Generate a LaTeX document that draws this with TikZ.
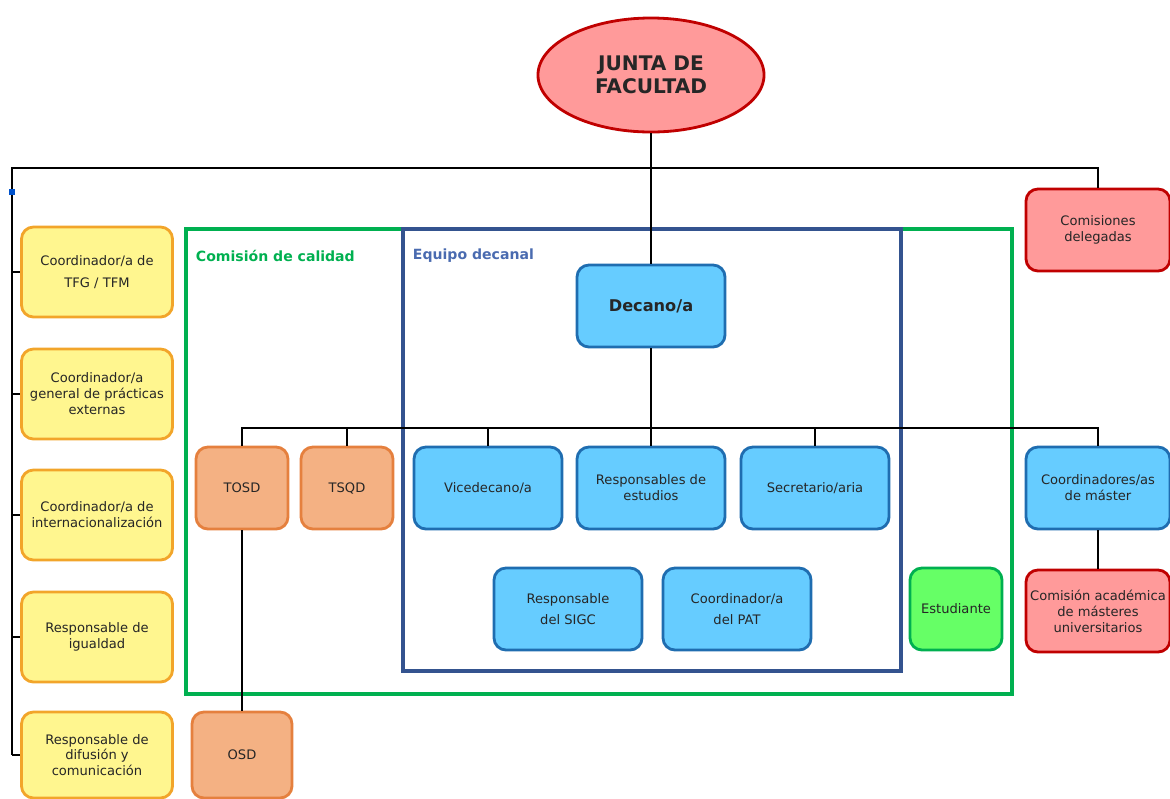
\documentclass[tikz,border=0pt]{standalone}
\usepackage{fontspec}
\setmainfont{DejaVu Sans}
\usetikzlibrary{shapes.geometric}

\definecolor{redfill}{HTML}{FF9A9A}
\definecolor{redline}{HTML}{C00000}
\definecolor{yelfill}{HTML}{FFF68F}
\definecolor{yelline}{HTML}{F2A52A}
\definecolor{bluefill}{HTML}{66CCFF}
\definecolor{blueline}{HTML}{1F6DB0}
\definecolor{orafill}{HTML}{F4B183}
\definecolor{oraline}{HTML}{E5803E}
\definecolor{grnfill}{HTML}{66FF66}
\definecolor{grnline}{HTML}{00B050}
\definecolor{frameblue}{HTML}{34538F}
\definecolor{titleblue}{HTML}{4A6BB0}
\definecolor{boxtext}{HTML}{262626}

\begin{document}
\begin{tikzpicture}[x=0.025cm,y=-0.025cm,
  box/.style={draw, rounded corners=0.3cm, line width=2pt, align=center,
    text=boxtext, inner sep=2pt, font=\fontsize{9.3}{11.3}\selectfont},
  yelbox/.style={box, fill=yelfill, draw=yelline, minimum width=3.775cm, minimum height=2.25cm},
  bluebox/.style={box, fill=bluefill, draw=blueline, minimum width=3.7cm, minimum height=2.05cm},
  redbox/.style={box, fill=redfill, draw=redline, minimum width=3.6cm, minimum height=2.05cm},
  orabox/.style={box, fill=orafill, draw=oraline, minimum width=2.3cm, minimum height=2.05cm},
  conn/.style={line width=1.4pt, black},
  frame/.style={line width=2.2pt},
  frametitle/.style={anchor=west, font=\fontsize{10}{12}\selectfont\bfseries}]
\useasboundingbox (0,0) rectangle (1170,798);

% marcos
\draw[frame, grnline] (186,229) rectangle (1012,694);
\draw[frame, frameblue] (403,229) rectangle (901,671);
\node[frametitle, text=grnline] (tcal) at (191,256) {Comisión de calidad};
\node[frametitle, text=titleblue] (tdec) at (408,256) {Equipo decanal};

\node[ellipse, draw=redline, fill=redfill, line width=2pt, minimum width=5.65cm, minimum height=2.85cm,
  align=center, font=\fontsize{14.3}{16}\selectfont\bfseries, text=boxtext] (junta) at (651,75) {JUNTA DE\\FACULTAD};

\node[redbox] (comis) at (1098,230) {Comisiones\\delegadas};

% columna izquierda
\node[yelbox] (tfg) at (97,272) {Coordinador/a de\\[4pt]TFG / TFM};
\node[yelbox] (prac) at (97,394) {Coordinador/a\\general de prácticas\\externas};
\node[yelbox] (inter) at (97,515) {Coordinador/a de\\internacionalización};
\node[yelbox] (igual) at (97,637) {Responsable de\\igualdad};
\node[yelbox, minimum height=2.15cm] (difu) at (97,755) {Responsable de\\difusión y\\comunicación};

% equipo decanal
\node[bluebox, font=\fontsize{11.5}{13}\selectfont\bfseries] (decano) at (651,306) {Decano/a};
\node[bluebox] (vice) at (488,488) {Vicedecano/a};
\node[bluebox] (resp) at (651,488) {Responsables de\\estudios};
\node[bluebox] (secr) at (815,488) {Secretario/aria};
\node[bluebox] (sigc) at (568,609) {Responsable\\[4pt]del SIGC};
\node[bluebox] (pat) at (737,609) {Coordinador/a\\[4pt]del PAT};
\node[bluebox, minimum width=3.6cm] (master) at (1098,488) {Coordinadores/as\\de máster};
\node[redbox] (acad) at (1098,611) {Comisión académica\\de másteres\\universitarios};

\node[orabox] (tosd) at (242,488) {TOSD};
\node[orabox] (tsqd) at (347,488) {TSQD};
\node[orabox, minimum width=2.5cm, minimum height=2.15cm] (osd) at (242,755) {OSD};
\node[box, fill=grnfill, draw=grnline, minimum width=2.3cm, minimum height=2.05cm] (estu) at (956,609) {Estudiante};

% conectores
\coordinate (busL) at (12,168);
\coordinate (bus2) at (651,428);
\draw[conn] (junta.south) -- (decano.north);
\draw[conn] (comis.north) |- (busL) -- (busL |- difu.west);
\foreach \n in {tfg,prac,inter,igual,difu}
  \draw[conn] (busL |- \n.west) -- (\n.west);
\fill[blue!60!cyan!80!black] (9,189) rectangle (15,195);
\draw[conn] (decano.south) -- (bus2);
\draw[conn] (tosd.north) |- (bus2) -| (master.north);
\foreach \n in {tsqd,vice,resp,secr}
  \draw[conn] (\n.north) -- (\n.north |- bus2);
\draw[conn] (master) -- (acad);
\draw[conn] (tosd) -- (osd);
\end{tikzpicture}
\end{document}
